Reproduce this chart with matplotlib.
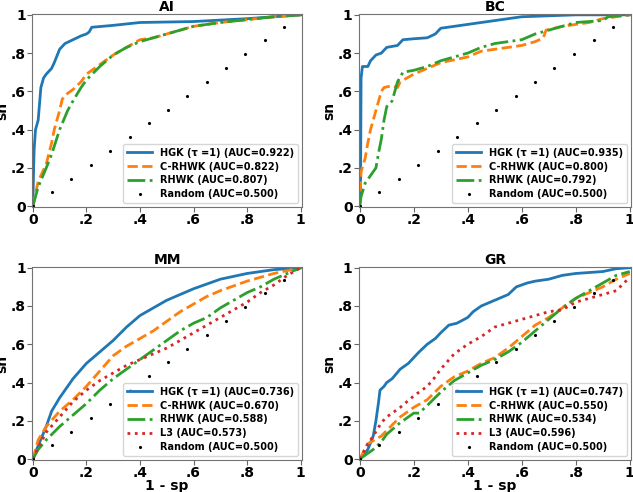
import matplotlib.pyplot as plt
import numpy as np

# ROC data (1 - sp on x, sn on y)
rand_x = [0, 0.072, 0.144, 0.216, 0.289, 0.361, 0.433, 0.505, 0.577, 0.649, 0.721, 0.794, 0.866, 0.938]
rand_y = rand_x

ai_hgk_x = [0, 0.003, 0.005, 0.01, 0.02, 0.03, 0.04, 0.05, 0.07, 0.08, 0.1, 0.12, 0.15, 0.18, 0.2, 0.21, 0.22, 0.3, 0.4, 0.6, 0.8, 1]
ai_hgk_y = [0, 0.2, 0.3, 0.4, 0.45, 0.62, 0.67, 0.69, 0.72, 0.75, 0.82, 0.85, 0.87, 0.89, 0.9, 0.91, 0.935, 0.945, 0.96, 0.965, 0.98, 1]
ai_crhwk_x = [0, 0.02, 0.05, 0.07, 0.08, 0.1, 0.11, 0.13, 0.15, 0.18, 0.2, 0.25, 0.3, 0.35, 0.4, 0.45, 0.5, 0.6, 0.7, 0.8, 0.9, 1]
ai_crhwk_y = [0, 0.13, 0.22, 0.33, 0.4, 0.5, 0.56, 0.59, 0.61, 0.65, 0.69, 0.74, 0.79, 0.83, 0.87, 0.88, 0.9, 0.94, 0.96, 0.975, 0.99, 1]
ai_rhwk_x = [0, 0.02, 0.05, 0.07, 0.1, 0.13, 0.15, 0.18, 0.2, 0.25, 0.3, 0.35, 0.4, 0.45, 0.5, 0.6, 0.7, 0.8, 0.9, 1]
ai_rhwk_y = [0, 0.1, 0.2, 0.27, 0.4, 0.5, 0.55, 0.62, 0.66, 0.73, 0.79, 0.83, 0.86, 0.88, 0.9, 0.94, 0.96, 0.975, 0.99, 1]

bc_hgk_x = [0, 0.003, 0.005, 0.01, 0.03, 0.04, 0.06, 0.08, 0.1, 0.14, 0.16, 0.2, 0.25, 0.28, 0.3, 0.35, 0.4, 0.45, 0.5, 0.55, 0.6, 0.7, 0.8, 1]
bc_hgk_y = [0, 0.1, 0.67, 0.73, 0.73, 0.76, 0.79, 0.8, 0.83, 0.84, 0.87, 0.875, 0.88, 0.9, 0.93, 0.94, 0.95, 0.96, 0.97, 0.98, 0.99, 0.995, 1.0, 1]
bc_crhwk_x = [0, 0.005, 0.02, 0.03, 0.04, 0.05, 0.06, 0.07, 0.08, 0.09, 0.12, 0.14, 0.15, 0.2, 0.25, 0.3, 0.4, 0.45, 0.5, 0.6, 0.65, 0.68, 0.69, 0.75, 0.8, 0.85, 0.9, 1]
bc_crhwk_y = [0, 0.18, 0.25, 0.33, 0.4, 0.45, 0.5, 0.55, 0.6, 0.62, 0.63, 0.62, 0.65, 0.69, 0.72, 0.75, 0.78, 0.81, 0.82, 0.84, 0.86, 0.88, 0.92, 0.94, 0.95, 0.96, 0.98, 1]
bc_rhwk_x = [0, 0.005, 0.02, 0.05, 0.06, 0.07, 0.08, 0.09, 0.1, 0.12, 0.13, 0.14, 0.16, 0.2, 0.25, 0.3, 0.35, 0.4, 0.45, 0.5, 0.55, 0.6, 0.65, 0.7, 0.75, 0.8, 0.85, 0.9, 0.92, 1]
bc_rhwk_y = [0, 0.05, 0.12, 0.18, 0.2, 0.28, 0.35, 0.45, 0.52, 0.55, 0.6, 0.65, 0.7, 0.71, 0.73, 0.76, 0.78, 0.8, 0.83, 0.85, 0.86, 0.87, 0.9, 0.92, 0.94, 0.96, 0.965, 0.97, 0.99, 1]

mm_hgk_x = [0, 0.02, 0.05, 0.07, 0.1, 0.15, 0.2, 0.25, 0.3, 0.35, 0.4, 0.45, 0.5, 0.55, 0.6, 0.7, 0.8, 0.9, 1]
mm_hgk_y = [0, 0.07, 0.17, 0.25, 0.32, 0.42, 0.5, 0.56, 0.62, 0.69, 0.75, 0.79, 0.83, 0.86, 0.89, 0.94, 0.97, 0.99, 1]
mm_crhwk_x = [0, 0.02, 0.05, 0.1, 0.15, 0.2, 0.25, 0.3, 0.35, 0.4, 0.45, 0.5, 0.55, 0.6, 0.65, 0.7, 0.8, 0.9, 1]
mm_crhwk_y = [0, 0.1, 0.17, 0.25, 0.31, 0.38, 0.46, 0.54, 0.59, 0.63, 0.67, 0.72, 0.77, 0.81, 0.85, 0.88, 0.93, 0.97, 1]
mm_rhwk_x = [0, 0.02, 0.05, 0.1, 0.15, 0.2, 0.25, 0.3, 0.35, 0.4, 0.45, 0.5, 0.55, 0.6, 0.65, 0.7, 0.75, 0.8, 0.85, 0.9, 0.95, 1]
mm_rhwk_y = [0, 0.05, 0.1, 0.17, 0.23, 0.29, 0.36, 0.42, 0.47, 0.52, 0.57, 0.62, 0.67, 0.71, 0.74, 0.79, 0.83, 0.87, 0.9, 0.94, 0.97, 1]
mm_l3_x = [0, 0.02, 0.05, 0.1, 0.15, 0.2, 0.25, 0.3, 0.35, 0.4, 0.45, 0.5, 0.55, 0.6, 0.65, 0.7, 0.75, 0.8, 0.85, 0.9, 0.95, 1]
mm_l3_y = [0, 0.06, 0.14, 0.22, 0.3, 0.36, 0.41, 0.45, 0.49, 0.52, 0.55, 0.58, 0.62, 0.66, 0.7, 0.74, 0.78, 0.82, 0.87, 0.91, 0.96, 1]

gr_hgk_x = [0, 0.03, 0.05, 0.06, 0.07, 0.075, 0.09, 0.1, 0.12, 0.15, 0.18, 0.2, 0.22, 0.25, 0.28, 0.3, 0.33, 0.36, 0.4, 0.42, 0.45, 0.5, 0.55, 0.58, 0.62, 0.65, 0.7, 0.75, 0.8, 0.9, 0.95, 1]
gr_hgk_y = [0, 0.05, 0.12, 0.2, 0.3, 0.36, 0.38, 0.4, 0.42, 0.47, 0.5, 0.53, 0.56, 0.6, 0.63, 0.66, 0.7, 0.71, 0.74, 0.77, 0.8, 0.83, 0.86, 0.9, 0.92, 0.93, 0.94, 0.96, 0.97, 0.98, 0.995, 1]
gr_crhwk_x = [0, 0.03, 0.08, 0.1, 0.15, 0.2, 0.25, 0.3, 0.35, 0.4, 0.45, 0.5, 0.55, 0.6, 0.65, 0.7, 0.75, 0.8, 0.85, 0.9, 0.95, 1]
gr_crhwk_y = [0, 0.08, 0.12, 0.15, 0.22, 0.27, 0.31, 0.38, 0.43, 0.46, 0.5, 0.53, 0.58, 0.64, 0.7, 0.74, 0.79, 0.84, 0.87, 0.9, 0.94, 0.97]
gr_rhwk_x = [0, 0.05, 0.08, 0.1, 0.15, 0.2, 0.22, 0.25, 0.3, 0.35, 0.4, 0.45, 0.5, 0.55, 0.6, 0.65, 0.7, 0.75, 0.8, 0.85, 0.9, 0.95, 1]
gr_rhwk_y = [0, 0.05, 0.09, 0.13, 0.19, 0.24, 0.24, 0.28, 0.35, 0.41, 0.45, 0.49, 0.52, 0.56, 0.61, 0.67, 0.73, 0.79, 0.84, 0.88, 0.92, 0.96, 0.98]
gr_l3_x = [0, 0.03, 0.05, 0.08, 0.1, 0.15, 0.2, 0.25, 0.28, 0.3, 0.35, 0.4, 0.45, 0.5, 0.6, 0.7, 0.75, 0.8, 0.85, 0.9, 0.95, 1]
gr_l3_y = [0, 0.08, 0.12, 0.19, 0.22, 0.27, 0.33, 0.38, 0.43, 0.47, 0.55, 0.6, 0.64, 0.69, 0.73, 0.77, 0.78, 0.82, 0.84, 0.86, 0.88, 0.95]

ticks = [0, 0.2, 0.4, 0.6, 0.8, 1]
tick_labels = ['0', '.2', '.4', '.6', '.8', '1']

panels = [
    ('AI', [0.0506, 0.579, 0.4265, 0.392], [
        ('HGK (\u03c4 =1) (AUC=0.922)', ai_hgk_x, ai_hgk_y),
        ('C-RHWK (AUC=0.822)', ai_crhwk_x, ai_crhwk_y),
        ('RHWK (AUC=0.807)', ai_rhwk_x, ai_rhwk_y),
    ], False),
    ('BC', [0.567, 0.579, 0.43, 0.392], [
        ('HGK (\u03c4 =1) (AUC=0.935)', bc_hgk_x, bc_hgk_y),
        ('C-RHWK (AUC=0.800)', bc_crhwk_x, bc_crhwk_y),
        ('RHWK (AUC=0.792)', bc_rhwk_x, bc_rhwk_y),
    ], False),
    ('MM', [0.0506, 0.065, 0.4265, 0.392], [
        ('HGK (\u03c4 =1) (AUC=0.736)', mm_hgk_x, mm_hgk_y),
        ('C-RHWK (AUC=0.670)', mm_crhwk_x, mm_crhwk_y),
        ('RHWK (AUC=0.588)', mm_rhwk_x, mm_rhwk_y),
        ('L3 (AUC=0.573)', mm_l3_x, mm_l3_y),
    ], True),
    ('GR', [0.567, 0.065, 0.43, 0.392], [
        ('HGK (\u03c4 =1) (AUC=0.747)', gr_hgk_x, gr_hgk_y),
        ('C-RHWK (AUC=0.550)', gr_crhwk_x, gr_crhwk_y),
        ('RHWK (AUC=0.534)', gr_rhwk_x, gr_rhwk_y),
        ('L3 (AUC=0.596)', gr_l3_x, gr_l3_y),
    ], True),
]

styles = [('tab:blue', '-'), ('tab:orange', '--'), ('tab:green', '-.'), ('tab:red', ':')]

fig = plt.figure(figsize=(6.33, 4.92), dpi=100)
for title, pos, curves, bottom in panels:
    ax = fig.add_axes(pos)
    for (lab, x, y), (col, ls) in zip(curves, styles):
        ax.plot(x, y, color=col, linestyle=ls, linewidth=2, label=lab)
    ax.plot(rand_x, rand_y, 'k.', markersize=2.5, linestyle='none', label='Random (AUC=0.500)')
    ax.set_xlim(-0.003, 1.005)
    ax.set_ylim(-0.005, 1.003)
    ax.set_xticks(ticks)
    ax.set_xticklabels(tick_labels, fontsize=10, fontweight='bold')
    ax.set_yticks(ticks)
    ax.set_yticklabels(tick_labels, fontsize=10, fontweight='bold')
    ax.set_title(title, fontsize=10, fontweight='bold', pad=2)
    ax.set_ylabel('sn', fontsize=10, fontweight='bold', labelpad=1)
    if bottom:
        ax.set_xlabel('1 - sp', fontsize=10, fontweight='bold', labelpad=-1)
    ax.tick_params(pad=1, color='0.4')
    for s in ax.spines.values():
        s.set_edgecolor('0.45')
    ax.legend(loc='lower right', prop={'size': 7, 'weight': 'bold'},
              handlelength=2.6, borderaxespad=0.4, labelspacing=0.4)

fig.savefig('out.png', dpi=100)
